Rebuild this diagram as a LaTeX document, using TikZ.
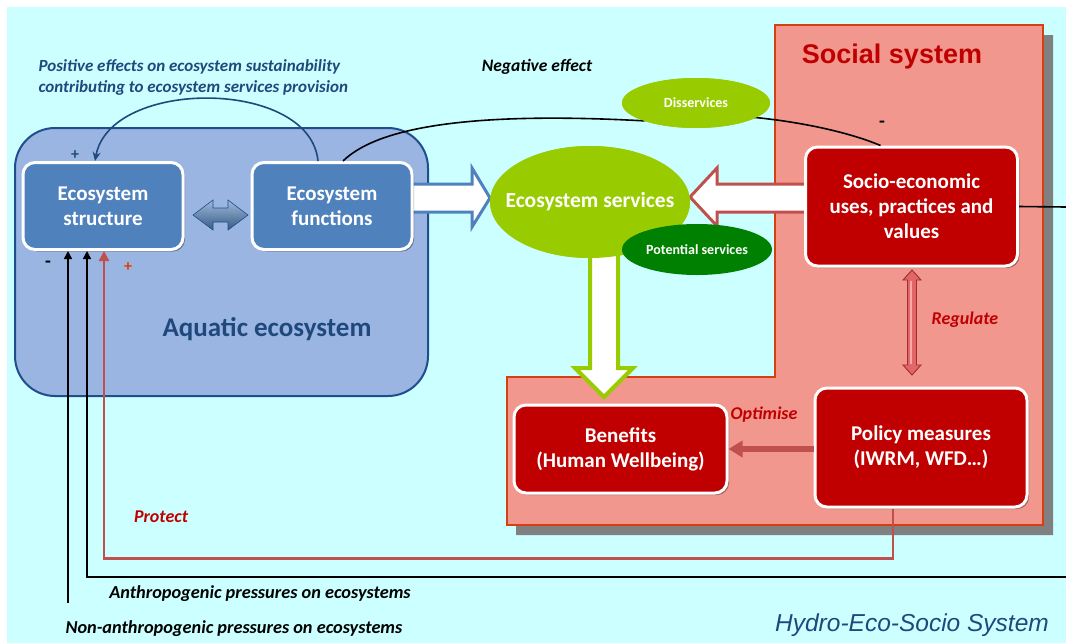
\documentclass[tikz,border=0pt]{standalone}
\usepackage{fontspec}
\setmainfont{Carlito}
\newfontfamily\arialf{Liberation Sans}
\usetikzlibrary{arrows.meta,shapes.geometric,shadows}
\definecolor{bgc}{HTML}{CCFFFF}
\definecolor{aqfill}{HTML}{9BB5E3}
\definecolor{aqdraw}{HTML}{1F4E8C}
\definecolor{boxblue}{HTML}{4F81BD}
\definecolor{txtblue}{HTML}{1F497D}
\definecolor{socfill}{HTML}{F2978E}
\definecolor{socdraw}{HTML}{D4400F}
\definecolor{boxred}{HTML}{C00000}
\definecolor{lgreen}{HTML}{99CC00}
\definecolor{dgreen}{HTML}{008000}
\definecolor{arrred}{HTML}{C0504D}
\definecolor{plusred}{HTML}{E03C00}
\definecolor{shadowgray}{HTML}{808080}
\definecolor{regfill}{HTML}{E26666}
\definecolor{reglight}{HTML}{F7A8A8}
\definecolor{regedge}{HTML}{9C2F2F}
\tikzset{
  ebox/.style={rounded corners=12pt, draw=white, line width=3pt, text=white,
    font=\bfseries\fontsize{21}{25}\selectfont, align=center, inner sep=0pt,
    drop shadow={shadow xshift=2pt, shadow yshift=-2pt, opacity=0.35, fill=black}},
  bluebox/.style={ebox, fill=boxblue},
  redbox/.style={ebox, fill=boxred},
  ell/.style={ellipse, inner sep=0pt},
  elltext/.style={text=white, font=\bfseries\fontsize{14}{16}\selectfont},
  lab/.style={font=\bfseries\itshape\fontsize{18}{21}\selectfont},
  blkline/.style={black, line width=1.6pt},
  tipblk/.style={-{Triangle[length=8pt,width=8pt]}},
  sign/.style={font=\bfseries\fontsize{19}{20}\selectfont},
}
\begin{document}
\begin{tikzpicture}[x=1pt,y=-1pt]
\useasboundingbox (0,0) rectangle (1066,643);
\fill[white] (0,0) rectangle (1066,643);
\fill[bgc] (7,7) rectangle (1066,643);

% social system
\fill[shadowgray] (784,35) -- (1053,35) -- (1053,535) -- (516,535) -- (516,387) -- (784,387) -- cycle;
\draw[socdraw, fill=socfill, line width=2.5pt] (775,25) -- (1043,25) -- (1043,525) -- (507,525) -- (507,377) -- (775,377) -- cycle;
\node[font=\arialf\bfseries\fontsize{27}{30}\selectfont, text=boxred] (soctitle) at (892,57) {Social system};

% aquatic ecosystem
\draw[aqdraw, fill=aqfill, line width=2pt, rounded corners=40pt] (15,128) rectangle (428,396);
\node[font=\bfseries\fontsize{27}{30}\selectfont, text=txtblue] (aqtitle) at (267,329) {Aquatic ecosystem};

% hollow arrows
\draw[boxblue, fill=white, line width=3pt, line join=miter] (405,184) -- (472,184) -- (472,168) -- (490,198) -- (472,227) -- (472,212) -- (405,212);
\draw[arrred, fill=white, line width=3pt, line join=miter] (812,184) -- (717,184) -- (717,168) -- (690,197) -- (717,226) -- (717,212) -- (812,212);

\node[ell, fill=lgreen, minimum width=148pt, minimum height=50pt] (dis) at (696,103) {};
\node[ell, fill=lgreen, minimum width=200pt, minimum height=112pt] (ess) at (590,202) {};

% boxes
\node[bluebox, minimum width=160pt, minimum height=87pt] (str) at (103,206) {Ecosystem\\structure};
\node[bluebox, minimum width=160pt, minimum height=87pt] (fun) at (332,206) {Ecosystem\\functions};
\node[redbox, minimum width=212pt, minimum height=119pt] (soc) at (911.5,206.5) {Socio-economic\\uses, practices and\\values};
\node[redbox, minimum width=212pt, minimum height=119pt] (pol) at (921,447.5) {Policy measures\\(IWRM, WFD…)};
\node[redbox, minimum width=213pt, minimum height=88pt] (ben) at (620.5,449) {Benefits\\(Human Wellbeing)};

% negative effect curve (passes behind disservices)
\draw[blkline] ([xshift=11pt]fun.north) .. controls (380,125) and (480,112) .. (dis.south west) .. controls (700,106) and (820,120) .. ([xshift=-31pt]soc.north);
\node[ell, fill=lgreen, minimum width=148pt, minimum height=50pt] (dis2) at (dis) {};
\node[elltext] (distext) at (dis2) {Disservices};

% green hollow arrow
\draw[lgreen, fill=white, line width=4pt, line join=miter] (590,245) -- (590,368) -- (575,368) -- (604,397) -- (633,368) -- (618,368) -- (618,245);
\node[ell, fill=lgreen, minimum width=200pt, minimum height=112pt] (ess2) at (ess) {};
\node[text=white, font=\bfseries\fontsize{21.5}{24}\selectfont] (esstext) at (ess2) {Ecosystem services};
\node[ell, fill=dgreen, minimum width=150pt, minimum height=51pt] (pot) at (697,249.5) {};
\node[elltext] (pottext) at (pot) {Potential services};

% blue double arrow
\path[draw=aqdraw, line width=0.6pt, top color=boxblue!55!white, bottom color=boxblue!70!black]
  (193,215) -- (213,200) -- (213,208) -- (228,208) -- (228,200) -- (248,215) -- (228,230) -- (228,222) -- (213,222) -- (213,230) -- cycle;

% regulate double arrow
\path[draw=regedge, line width=0.9pt, fill=regfill]
  (912,270) -- (921,280) -- (916.5,280) -- (916.5,365) -- (921,365) -- (912,375) -- (903,365) -- (907.5,365) -- (907.5,280) -- (903,280) -- cycle;
\draw[reglight, line width=2.2pt] (911,281) -- (911,364);
\node[lab, text=boxred] (reglab) at (965,320) {Regulate};

% optimise
\draw[arrred, line width=6pt, -{Triangle[length=14pt,width=16pt]}] (pol.west |- ben.east) -- (ben.east);
\node[lab, text=boxred] (optlab) at (764,415) {Optimise};

% positive effects curve
\draw[txtblue, line width=1.6pt, -{Stealth[length=9pt,width=8pt]}] ([xshift=-14pt]fun.north) .. controls (310,78) and (110,78) .. ([xshift=-8pt]str.north);
\node[anchor=west, align=left, font=\bfseries\itshape\fontsize{17}{21}\selectfont, text=txtblue] (poslab) at (35,77.5) {Positive effects on ecosystem sustainability\\contributing to ecosystem services provision};
\node[font=\bfseries\fontsize{16}{18}\selectfont, text=txtblue] (plus1) at (75,155) {+};

\node[font=\bfseries\itshape\fontsize{17.5}{21}\selectfont] (neglab) at (537,67) {Negative effect};
\node[sign] (minus2) at (882,124) {-};

% pressures and protect
\coordinate (r1) at (1066,207);
\coordinate (r2) at (1066,577);
\coordinate (nb) at (68,603);
\draw[blkline] (soc.east) -- (r1);
\draw[blkline, tipblk] (r2) -| ([xshift=-16pt]str.south);
\draw[blkline, tipblk] (nb) -- (nb |- str.south);
\draw[arrred, line width=2.6pt, -{Triangle[length=10pt,width=10pt]}] ([xshift=-28pt]pol.south) -- ++(0,50) -| ([xshift=1pt]str.south);
\node[sign] (minus1) at (48,264) {-};
\node[font=\bfseries\fontsize{16}{18}\selectfont, text=plusred] (plus2) at (128,267) {+};

\node[lab, text=boxred] (protlab) at (161,517) {Protect};
\node[font=\bfseries\itshape\fontsize{18.3}{21}\selectfont] (anthlab) at (260,594) {Anthropogenic pressures on ecosystems};
\node[font=\bfseries\itshape\fontsize{18.3}{21}\selectfont] (nonlab) at (234,629) {Non-anthropogenic pressures on ecosystems};

\node[font=\arialf\itshape\fontsize{24.5}{28}\selectfont, text=txtblue] (hess) at (912,625) {Hydro-Eco-Socio System};
\end{tikzpicture}
\end{document}
